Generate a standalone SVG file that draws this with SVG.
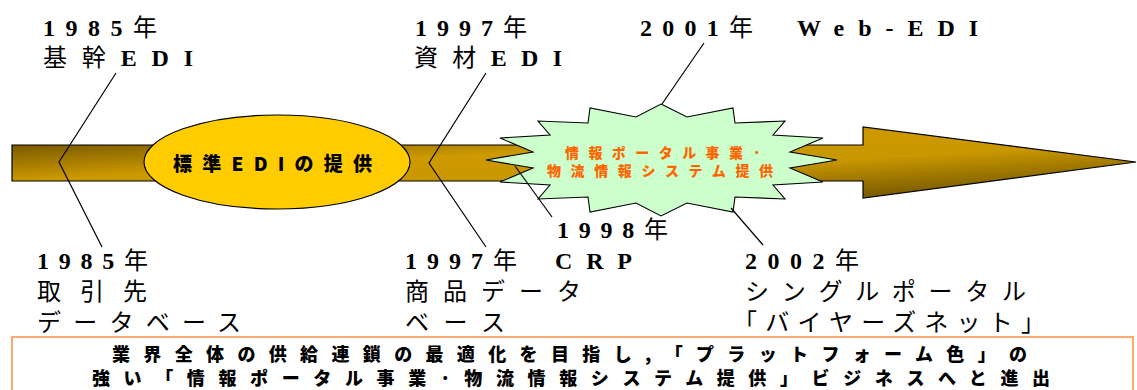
<svg xmlns="http://www.w3.org/2000/svg" width="1137" height="390" viewBox="0 0 1137 390">
<defs>
<style>
.lab{font-family:"Liberation Serif","Noto Sans CJK JP",serif;font-size:24px;fill:#000;}
.b{font-weight:bold;}
.ell{font-family:"Noto Sans CJK JP",sans-serif;font-size:19px;font-weight:900;fill:#000;}
.burst{font-family:"Noto Sans CJK JP",sans-serif;font-size:14px;font-weight:900;fill:#FF6600;}
.box{font-family:"Noto Sans CJK JP",sans-serif;font-size:18px;font-weight:900;fill:#000;}
.ln{fill:none;stroke:#000;stroke-width:1.2;}
</style>
<linearGradient id="gArrow" gradientUnits="userSpaceOnUse" x1="12" y1="145" x2="17.8" y2="245.7">
<stop offset="0" stop-color="#7A5A00"/>
<stop offset="0.36" stop-color="#CC9900"/>
<stop offset="0.62" stop-color="#C99700"/>
<stop offset="1" stop-color="#7A5C00"/>
</linearGradient>
</defs>
<rect x="0" y="0" width="1137" height="390" fill="#FFFFFF"/>

<g id="timeline-arrow">
<path d="M12,145 H863 V127 L1136,162 L863,198 V181 H12 Z" fill="url(#gArrow)" stroke="#000" stroke-width="1.2"/>
</g>

<g id="ellipse-std-edi">
<ellipse cx="277" cy="162" rx="133" ry="47" fill="#FFCC00" stroke="#000" stroke-width="1.2"/>
<text class="ell" x="173" y="171" textLength="199" lengthAdjust="spacing">標準EDIの提供</text>
</g>

<g id="starburst-portal">
<polygon points="661,104 687,117 733,108 735,123 785,121 773,135 823,138 790,152 837,160 790,168 823,182 773,185 785,199 735,197 733,212 687,203 661,216 636,203 590,212 588,197 538,199 550,185 500,182 533,168 486,160 533,152 500,138 550,135 538,121 588,123 590,108 636,117" fill="#CCFFCC" stroke="#000" stroke-width="1.1" stroke-linejoin="miter"/>
<text class="burst" x="565" y="158" textLength="196" lengthAdjust="spacing">情報ポータル事業·</text>
<text class="burst" x="547" y="176" textLength="226" lengthAdjust="spacing">物流情報システム提供</text>
</g>

<g id="connectors">
<polyline class="ln" points="116,73 59,162 102,247"/>
<polyline class="ln" points="486,73 429,163 486,247"/>
<line class="ln" x1="704" y1="43" x2="662" y2="104"/>
<line class="ln" x1="515" y1="166" x2="552" y2="217"/>
<line class="ln" x1="731" y1="208" x2="763" y2="245"/>
</g>

<g id="label-1985-top">
<text class="lab" x="43" y="36" textLength="114" lengthAdjust="spacing"><tspan class="b">1985</tspan>年</text>
<text class="lab" x="43" y="66" textLength="150" lengthAdjust="spacing">基幹<tspan class="b">EDI</tspan></text>
</g>

<g id="label-1997-top">
<text class="lab" x="415" y="36" textLength="112" lengthAdjust="spacing"><tspan class="b">1997</tspan>年</text>
<text class="lab" x="414" y="66" textLength="148" lengthAdjust="spacing">資材<tspan class="b">EDI</tspan></text>
</g>

<g id="label-2001">
<text class="lab" x="640" y="36" textLength="113" lengthAdjust="spacing"><tspan class="b">2001</tspan>年</text>
<text class="lab b" x="797" y="36" textLength="181" lengthAdjust="spacing">Web-EDI</text>
</g>

<g id="label-1985-bottom">
<text class="lab" x="37" y="269" textLength="111" lengthAdjust="spacing"><tspan class="b">1985</tspan>年</text>
<text class="lab" x="37" y="300" textLength="110" lengthAdjust="spacing">取引先</text>
<text class="lab" x="37" y="331" textLength="204" lengthAdjust="spacing">データベース</text>
</g>

<g id="label-1997-bottom">
<text class="lab" x="405" y="269" textLength="112" lengthAdjust="spacing"><tspan class="b">1997</tspan>年</text>
<text class="lab" x="405" y="300" textLength="176" lengthAdjust="spacing">商品データ</text>
<text class="lab" x="405" y="331" textLength="100" lengthAdjust="spacing">ベース</text>
</g>

<g id="label-1998">
<text class="lab" x="557" y="238" textLength="111" lengthAdjust="spacing"><tspan class="b">1998</tspan>年</text>
<text class="lab b" x="555" y="269" textLength="77" lengthAdjust="spacing">CRP</text>
</g>

<g id="label-2002">
<text class="lab" x="745" y="269" textLength="114" lengthAdjust="spacing"><tspan class="b">2002</tspan>年</text>
<text class="lab" x="745" y="300" textLength="281" lengthAdjust="spacing">シングルポータル</text>
<text class="lab" x="733" y="331" textLength="312" lengthAdjust="spacing">「バイヤーズネット」</text>
</g>

<g id="summary-box">
<rect x="12" y="337" width="1121" height="70" fill="#FFFFFF" stroke="#FF8C40" stroke-width="1.5"/>
<text class="box" x="112" y="361" textLength="915" lengthAdjust="spacing">業界全体の供給連鎖の最適化を目指し,「プラットフォーム色」の</text>
<text class="box" x="92" y="385" textLength="958" lengthAdjust="spacing">強い「情報ポータル事業·物流情報システム提供」ビジネスへと進出</text>
</g>
</svg>
